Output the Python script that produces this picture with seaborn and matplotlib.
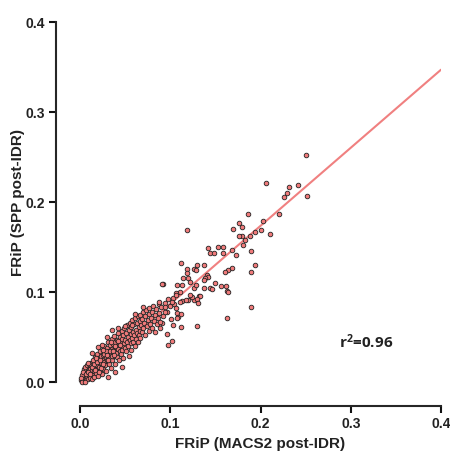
import numpy as np
import pandas as pd
import seaborn as sns
import matplotlib.pyplot as plt

# FRiP per sample: MACS2 post-IDR (x) vs SPP post-IDR (y)
# dense core near the origin
core_x = [0.001, 0.002, 0.003, 0.003, 0.004, 0.004, 0.005, 0.005, 0.006, 0.006, 0.007, 0.007,
          0.008, 0.008, 0.009, 0.009, 0.010, 0.010, 0.002, 0.001, 0.004, 0.006, 0.008,
          0.011, 0.011, 0.012, 0.012, 0.013, 0.013, 0.014, 0.014, 0.015, 0.015, 0.016, 0.016,
          0.017, 0.017, 0.018, 0.018, 0.019, 0.019, 0.020, 0.020,
          0.021, 0.021, 0.022, 0.022, 0.023, 0.023, 0.024, 0.024, 0.025, 0.025, 0.026, 0.026,
          0.027, 0.027, 0.028, 0.028, 0.029, 0.029, 0.030, 0.030,
          0.031, 0.031, 0.032, 0.032, 0.033, 0.033, 0.034, 0.034, 0.035, 0.035, 0.036, 0.036,
          0.037, 0.037, 0.038, 0.038, 0.039, 0.039, 0.040, 0.040,
          0.041, 0.041, 0.042, 0.042, 0.043, 0.043, 0.044, 0.044, 0.045, 0.045, 0.046, 0.046,
          0.047, 0.047, 0.048, 0.048, 0.049, 0.049, 0.050, 0.050,
          0.051, 0.051, 0.052, 0.052, 0.053, 0.053, 0.054, 0.054, 0.055, 0.055, 0.056, 0.056,
          0.057, 0.057, 0.058, 0.058, 0.059, 0.059, 0.060, 0.060,
          0.061, 0.061, 0.062, 0.062, 0.063, 0.063, 0.064, 0.064, 0.065, 0.065, 0.066, 0.066,
          0.067, 0.067, 0.068, 0.069, 0.069, 0.070, 0.070,
          0.071, 0.072, 0.072, 0.073, 0.074, 0.075, 0.076, 0.076, 0.077, 0.078, 0.079, 0.080,
          0.080, 0.081, 0.082, 0.083, 0.084, 0.085, 0.086, 0.087, 0.088, 0.089, 0.090, 0.092,
          0.094, 0.096, 0.098, 0.100, 0.101, 0.104,
          0.002, 0.005, 0.003, 0.007, 0.009, 0.011, 0.013, 0.015, 0.017, 0.019, 0.021, 0.023,
          0.025, 0.027, 0.029, 0.031, 0.033, 0.035, 0.037, 0.039, 0.010, 0.014, 0.018, 0.022,
          0.026, 0.030, 0.034, 0.038, 0.042, 0.044, 0.036, 0.030]
core_y = [0.002, 0.004, 0.001, 0.006, 0.003, 0.009, 0.005, 0.012, 0.002, 0.008, 0.004, 0.014,
          0.010, 0.006, 0.003, 0.016, 0.008, 0.012, 0.008, 0.005, 0.014, 0.017, 0.019,
          0.005, 0.015, 0.010, 0.021, 0.003, 0.013, 0.018, 0.008, 0.025, 0.012, 0.006, 0.016,
          0.022, 0.028, 0.010, 0.019, 0.014, 0.031, 0.024, 0.007,
          0.017, 0.027, 0.012, 0.034, 0.021, 0.029, 0.009, 0.018, 0.025, 0.036, 0.014, 0.030,
          0.022, 0.040, 0.019, 0.033, 0.027, 0.012, 0.024, 0.038,
          0.031, 0.044, 0.020, 0.035, 0.027, 0.041, 0.016, 0.031, 0.037, 0.048, 0.024, 0.033,
          0.042, 0.029, 0.051, 0.036, 0.020, 0.045, 0.032, 0.039,
          0.047, 0.028, 0.037, 0.054, 0.042, 0.024, 0.035, 0.050, 0.044, 0.031, 0.057, 0.040,
          0.048, 0.036, 0.027, 0.052, 0.043, 0.060, 0.038, 0.047,
          0.055, 0.034, 0.044, 0.063, 0.050, 0.040, 0.058, 0.029, 0.047, 0.066, 0.053, 0.043,
          0.061, 0.036, 0.049, 0.069, 0.056, 0.045, 0.064, 0.052,
          0.040, 0.071, 0.058, 0.048, 0.066, 0.054, 0.073, 0.044, 0.061, 0.052, 0.068, 0.057,
          0.075, 0.049, 0.063, 0.070, 0.056, 0.078, 0.060,
          0.066, 0.052, 0.073, 0.080, 0.062, 0.069, 0.057, 0.076, 0.082, 0.065, 0.071, 0.060,
          0.078, 0.085, 0.068, 0.074, 0.081, 0.064, 0.071, 0.087, 0.077, 0.060, 0.083, 0.073,
          0.088, 0.078, 0.092, 0.084, 0.070, 0.087,
          0.000, 0.000, 0.011, 0.009, 0.011, 0.009, 0.017, 0.020, 0.013, 0.022, 0.011, 0.016,
          0.020, 0.031, 0.035, 0.025, 0.034, 0.029, 0.035, 0.040, 0.020, 0.024, 0.027, 0.025,
          0.036, 0.030, 0.044, 0.030, 0.046, 0.041, 0.058, 0.050]

# sparser samples further out
outer_x = [0.250, 0.252, 0.206, 0.232, 0.242, 0.229, 0.226, 0.220, 0.186, 0.203, 0.176, 0.179,
           0.170, 0.210, 0.201, 0.194, 0.188, 0.183, 0.179, 0.181, 0.190, 0.168, 0.173, 0.194,
           0.190, 0.168, 0.190, 0.119, 0.176, 0.142, 0.153, 0.158, 0.144, 0.148, 0.158, 0.112,
           0.119, 0.126, 0.130, 0.137, 0.129, 0.164, 0.161, 0.141, 0.142, 0.139, 0.137, 0.119,
           0.120, 0.122, 0.114, 0.150, 0.156, 0.163, 0.137, 0.144, 0.126, 0.128, 0.107, 0.113,
           0.111, 0.106, 0.092, 0.132, 0.126, 0.120, 0.113, 0.103, 0.102, 0.094, 0.106, 0.108,
           0.094, 0.163, 0.109, 0.162, 0.164, 0.146, 0.124, 0.133, 0.130, 0.131, 0.130, 0.061,
           0.070, 0.112, 0.107, 0.103, 0.112, 0.096, 0.102, 0.098, 0.091, 0.083, 0.089, 0.111,
           0.117, 0.122, 0.106, 0.091, 0.087, 0.050, 0.042, 0.058, 0.024, 0.020, 0.013, 0.009,
           0.039, 0.047, 0.031]
outer_y = [0.252, 0.207, 0.221, 0.217, 0.219, 0.210, 0.206, 0.187, 0.187, 0.179, 0.177, 0.172,
           0.170, 0.164, 0.169, 0.167, 0.162, 0.158, 0.162, 0.152, 0.146, 0.147, 0.141, 0.130,
           0.122, 0.127, 0.083, 0.169, 0.162, 0.149, 0.150, 0.150, 0.143, 0.143, 0.143, 0.132,
           0.126, 0.126, 0.130, 0.130, 0.124, 0.124, 0.122, 0.119, 0.117, 0.116, 0.113, 0.121,
           0.116, 0.111, 0.116, 0.110, 0.107, 0.101, 0.104, 0.104, 0.104, 0.108, 0.108, 0.108,
           0.100, 0.099, 0.109, 0.096, 0.091, 0.091, 0.090, 0.093, 0.089, 0.083, 0.082, 0.077,
           0.078, 0.071, 0.072, 0.107, 0.100, 0.103, 0.094, 0.096, 0.092, 0.088, 0.062, 0.076,
           0.083, 0.076, 0.071, 0.063, 0.061, 0.053, 0.046, 0.041, 0.066, 0.056, 0.067, 0.089,
           0.091, 0.097, 0.097, 0.109, 0.089, 0.062, 0.060, 0.063, 0.041, 0.039, 0.032, 0.021,
           0.011, 0.017, 0.006]

# fitted line ends
fit_x = [0.0, 0.4]
fit_y = [0.0, 0.347]
ticks = [0.0, 0.1, 0.2, 0.3, 0.4]
tick_labels = ["0.0", "0.1", "0.2", "0.3", "0.4"]
r2_text = "r$^{2}$=0.96"

df = pd.DataFrame({"macs2": core_x + outer_x, "spp": core_y + outer_y})

sns.set_style("ticks")
plt.rcParams["font.family"] = ["Liberation Sans", "DejaVu Sans"]
plt.rcParams["mathtext.default"] = "regular"
plt.rcParams["axes.linewidth"] = 1.5
plt.rcParams["xtick.major.width"] = 1.5
plt.rcParams["ytick.major.width"] = 1.5

fig = plt.figure(figsize=(4.5, 4.59), dpi=100)
ax = fig.add_axes([80 / 450, 1 - 382 / 459, 361 / 450, 360 / 459])

sns.lineplot(x=fit_x, y=fit_y, color="#f08080", linewidth=1.5, ax=ax, zorder=1)
sns.scatterplot(data=df, x="macs2", y="spp", color="#f07a7a", edgecolor="#222222",
                linewidth=0.6, s=11, ax=ax, zorder=2, clip_on=False)

ax.set_xlim(0, 0.4)
ax.set_ylim(0, 0.4)
ax.set_xticks(ticks)
ax.set_yticks(ticks)
sns.despine(ax=ax, offset=17, trim=True)
ax.set_xticklabels(tick_labels, fontsize=10, fontweight="bold", color="#222222")
ax.set_yticklabels(tick_labels, fontsize=10, fontweight="bold", color="#222222")
ax.tick_params(length=5, color="#111111")

ax.set_xlabel("FRiP (MACS2 post-IDR)", fontsize=11, fontweight="bold", color="#222222", labelpad=4)
ax.set_ylabel("FRiP (SPP post-IDR)", fontsize=11, fontweight="bold", color="#222222", labelpad=0)

ax.text(0.317, 0.045, r2_text, fontsize=11, fontweight="bold", color="#222222",
        family=["Open Sans", "DejaVu Sans"], ha="center", va="center")

fig.savefig("out.png", dpi=100)
